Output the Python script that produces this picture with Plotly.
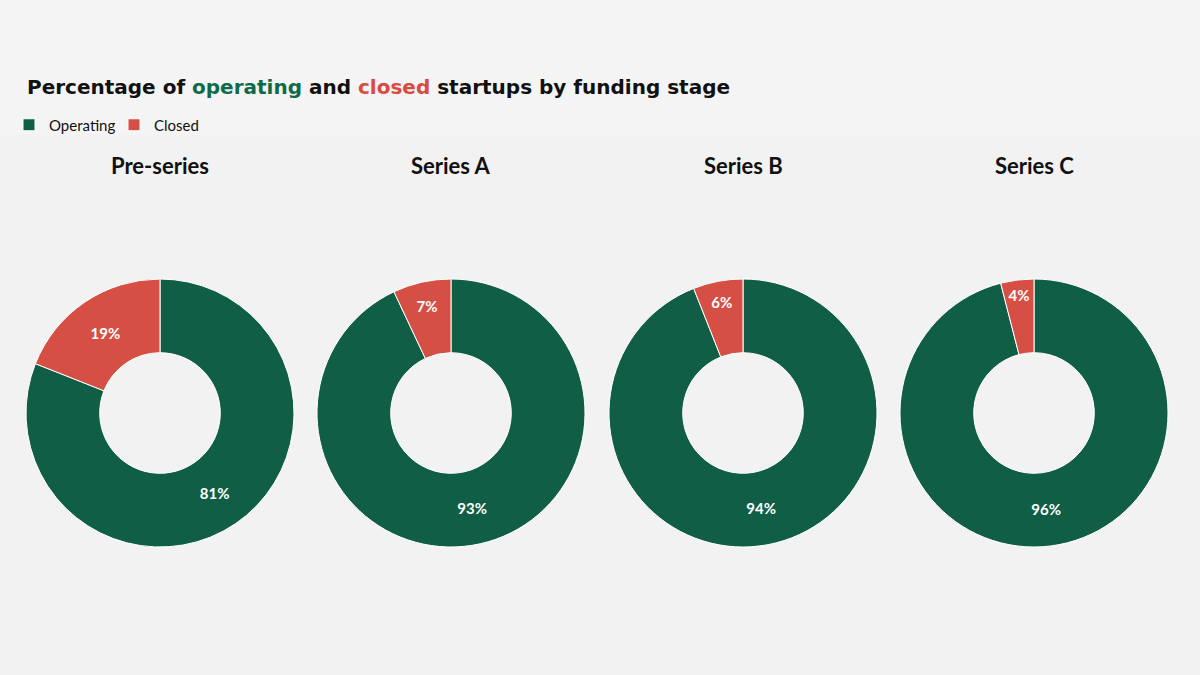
import plotly.graph_objects as go

stages = ["Pre-series", "Series A", "Series B", "Series C"]
labels = ["Operating", "Closed"]
operating = [81, 93, 94, 96]
closed = [19, 7, 6, 4]
colors = ["#0f5e45", "#d64f44"]

W, H = 1200, 675
centers_x = [160, 451, 743, 1034]
center_y = 413
radius = 134

fig = go.Figure()
for i, stage in enumerate(stages):
    cx = centers_x[i]
    fig.add_trace(go.Pie(
        labels=labels,
        values=[operating[i], closed[i]],
        sort=False,
        direction="clockwise",
        rotation=0,
        hole=0.45,
        marker=dict(colors=colors, line=dict(color="#ffffff", width=1)),
        texttemplate="%{value}%",
        textposition="inside",
        insidetextorientation="horizontal",
        textfont=dict(family="Lato", size=15, color="#ffffff", weight="bold"),
        domain=dict(x=[(cx - radius) / W, (cx + radius) / W],
                    y=[1 - (center_y + radius) / H, 1 - (center_y - radius) / H]),
        showlegend=(i == 0),
        hoverinfo="label+percent",
        name=stage,
    ))
    fig.add_annotation(text=stage, x=cx / W, y=1 - 166 / H, xref="paper", yref="paper",
                       xanchor="center", yanchor="middle", showarrow=False,
                       font=dict(family="Lato", size=22, color="#111111", weight="bold"))

fig.add_shape(type="rect", xref="paper", yref="paper", x0=0, x1=1, y0=1 - 135 / H, y1=1,
              fillcolor="#f4f4f4", line=dict(width=0), layer="below")

fig.update_layout(
    width=W, height=H,
    margin=dict(l=0, r=0, t=0, b=0),
    paper_bgcolor="#f2f2f2",
    plot_bgcolor="#f2f2f2",
    title=dict(
        text="Percentage of <span style='color:#0f6a48'>operating</span> and "
             "<span style='color:#d94a3f'>closed</span> startups by funding stage",
        x=27 / W, xanchor="left", y=1 - 87 / H, yanchor="middle",
        font=dict(family="DejaVu Sans", size=20, color="#111111", weight="bold"),
    ),
    legend=dict(orientation="h", x=9 / W, xanchor="left", y=1 - 125 / H, yanchor="middle",
                font=dict(family="Lato", size=15, color="#111111"),
                itemwidth=30, entrywidth=60, entrywidthmode="pixels",
                bgcolor="rgba(0,0,0,0)", traceorder="normal"),
    uniformtext=dict(minsize=15, mode="show"),
)

fig.write_html("out.html", config={"displayModeBar": False},
               post_script="document.body.style.margin='0';")
